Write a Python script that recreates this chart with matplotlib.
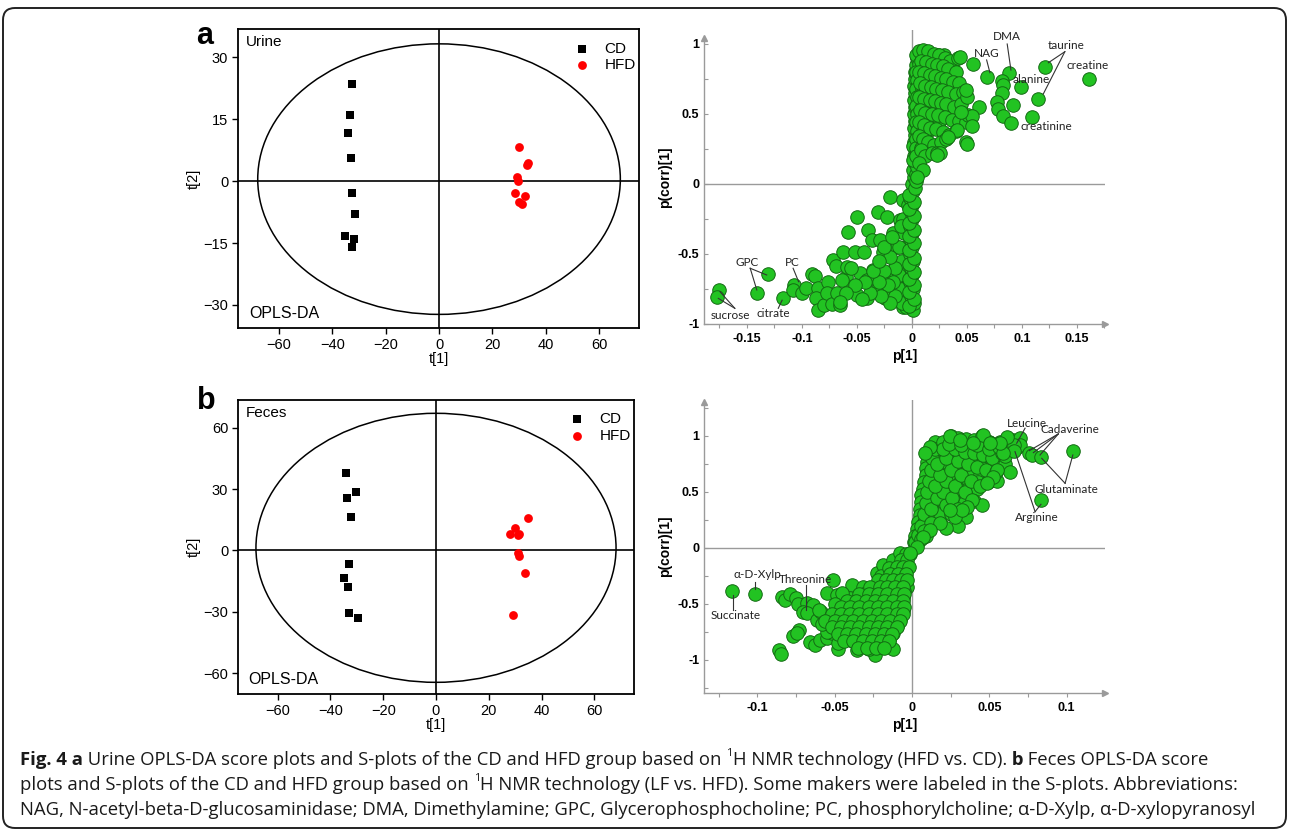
import matplotlib.pyplot as plt
from matplotlib.patches import Ellipse, FancyBboxPatch
from matplotlib.transforms import IdentityTransform
from matplotlib.ticker import MultipleLocator

plt.rcParams['font.family'] = ['Liberation Sans', 'DejaVu Sans']

# ---------------- score plots: t[1], t[2] ----------------
urine_cd_t1 = [-32.5, -33.4, -34.2, -32.9, -32.5, -31.5, -35.1, -31.9, -32.5]
urine_cd_t2 = [23.5, 16.0, 11.8, 5.5, -2.8, -7.9, -13.2, -14.1, -15.9]
urine_hfd_t1 = [30.0, 33.2, 32.9, 29.1, 29.7, 28.5, 32.4, 30.1, 31.0]
urine_hfd_t2 = [8.4, 4.5, 4.0, 0.9, 0.0, -2.9, -3.5, -5.0, -5.5]

feces_cd_t1 = [-34.1, -30.4, -33.6, -32.1, -32.8, -35.0, -33.2, -33.1, -29.4]
feces_cd_t2 = [37.7, 28.4, 25.5, 16.5, -6.8, -13.6, -17.7, -30.7, -33.0]
feces_hfd_t1 = [34.8, 30.0, 28.0, 30.9, 31.6, 31.2, 31.3, 33.6, 29.0]
feces_hfd_t2 = [15.7, 11.1, 8.1, 7.4, 7.9, -1.4, -2.5, -11.1, -31.7]

score_xticks = [-60, -40, -20, 0, 20, 40, 60]
urine_yticks = [-30, -15, 0, 15, 30]
feces_yticks = [-60, -30, 0, 30, 60]

# ---------------- S-plots: p[1], p(corr)[1] ----------------
urine_s_low = [(-0.175, -0.757), (-0.177, -0.805), (-0.1306, -0.643), (-0.1406, -0.776), (-0.117, -0.812),
               (-0.107, -0.719), (-0.108, -0.76), (-0.100, -0.78), (-0.0964, -0.745), (-0.091, -0.643),
               (-0.088, -0.66), (-0.085, -0.745), (-0.087, -0.817), (-0.085, -0.9), (-0.08, -0.864),
               (-0.076, -0.698), (-0.0775, -0.78), (-0.073, -0.857), (-0.0655, -0.864), (-0.0685, -0.78),
               (-0.0715, -0.543), (-0.069, -0.586), (-0.0625, -0.483), (-0.060, -0.662), (-0.058, -0.34),
               (-0.050, -0.238), (-0.052, -0.483), (-0.044, -0.483), (-0.040, -0.33), (-0.031, -0.198),
               (-0.020, -0.09), (-0.0266, -0.483), (-0.023, -0.233), (-0.0366, -0.4), (-0.055, -0.733),
               (-0.050, -0.79), (-0.041, -0.817), (-0.032, -0.757), (-0.0245, -0.817), (-0.0185, -0.757),
               (-0.008, -0.876), (-0.011, -0.686), (-0.0155, -0.59), (-0.035, -0.614), (-0.047, -0.638),
               (-0.059, -0.59), (-0.064, -0.686), (-0.041, -0.686), (-0.023, -0.662), (-0.029, -0.4),
               (-0.017, -0.352), (-0.014, -0.448), (-0.011, -0.257), (-0.008, -0.114), (-0.005, -0.543),
               (-0.003, -0.757), (-0.002, -0.852),
               (-0.005, -0.88), (-0.006, -0.8), (-0.004, -0.72), (-0.006, -0.62), (-0.004, -0.55),
               (-0.005, -0.45), (-0.007, -0.35), (-0.005, -0.25), (-0.004, -0.15), (-0.009, -0.85),
               (-0.01, -0.75), (-0.012, -0.65), (-0.009, -0.55), (-0.012, -0.45), (-0.015, -0.8),
               (-0.017, -0.7), (-0.015, -0.6), (-0.02, -0.85), (-0.022, -0.72), (-0.025, -0.62),
               (-0.028, -0.8), (-0.03, -0.7), (-0.035, -0.62), (-0.038, -0.78), (-0.043, -0.7),
               (-0.045, -0.82), (-0.052, -0.72), (-0.055, -0.6), (-0.06, -0.78), (-0.065, -0.84),
               (-0.02, -0.52), (-0.025, -0.45), (-0.03, -0.55), (-0.018, -0.38), (-0.008, -0.25),
               (-0.01, -0.3)]
urine_s_col = [(0.001, -0.9), (0.002, -0.85), (-0.001, -0.8), (0.001, -0.75), (-0.002, -0.7), (0.0, -0.65),
               (-0.001, -0.6), (0.001, -0.55), (-0.002, -0.5), (0.0, -0.45), (-0.001, -0.4), (0.0, -0.35),
               (-0.002, -0.3), (0.0, -0.25), (-0.001, -0.2), (0.0, -0.15), (-0.002, -0.1), (0.001, -0.05),
               (0.0, 0.0), (0.002, 0.05), (0.001, 0.1), (0.003, 0.15), (0.002, 0.2), (0.003, 0.25),
               (0.002, 0.3), (0.003, 0.35), (0.002, 0.4), (0.003, 0.45), (0.002, 0.5), (0.003, 0.55),
               (0.002, 0.6), (0.003, 0.65), (0.002, 0.7), (0.003, 0.75), (0.003, 0.8), (0.004, 0.85),
               (0.005, 0.9),
               (-0.003, -0.875), (0.002, -0.825), (-0.003, -0.775), (0.002, -0.725), (-0.003, -0.675),
               (0.002, -0.625), (-0.003, -0.575), (0.002, -0.525), (-0.003, -0.475), (0.002, -0.425),
               (-0.003, -0.375), (0.002, -0.325), (-0.003, -0.275), (0.002, -0.225), (-0.003, -0.175),
               (0.002, -0.125), (-0.003, -0.075), (0.003, -0.025), (0.004, 0.025), (0.004, 0.075),
               (0.005, 0.125), (0.001, 0.175), (0.005, 0.225), (0.001, 0.275)]
urine_s_fill = [(0.004, 0.92), (0.009, 0.92), (0.014, 0.92), (0.019, 0.92), (0.024, 0.92), (0.029, 0.92),
                (0.006, 0.86), (0.011, 0.86), (0.016, 0.86), (0.021, 0.86), (0.026, 0.86), (0.031, 0.86),
                (0.036, 0.86), (0.004, 0.80), (0.009, 0.80), (0.014, 0.80), (0.019, 0.80), (0.024, 0.80),
                (0.029, 0.80), (0.034, 0.80), (0.005, 0.74), (0.010, 0.74), (0.015, 0.74), (0.020, 0.74),
                (0.025, 0.74), (0.030, 0.74), (0.004, 0.68), (0.009, 0.68), (0.014, 0.68), (0.019, 0.68),
                (0.024, 0.68), (0.029, 0.68), (0.035, 0.68), (0.005, 0.62), (0.010, 0.62), (0.015, 0.62),
                (0.020, 0.62), (0.025, 0.62), (0.004, 0.56), (0.009, 0.56), (0.014, 0.56), (0.019, 0.56),
                (0.024, 0.56), (0.029, 0.56), (0.005, 0.50), (0.010, 0.50), (0.015, 0.50), (0.020, 0.50),
                (0.004, 0.44), (0.009, 0.44), (0.014, 0.44), (0.019, 0.44), (0.025, 0.44), (0.005, 0.38),
                (0.010, 0.38), (0.015, 0.38), (0.004, 0.32), (0.008, 0.32), (0.012, 0.32), (0.004, 0.26),
                (0.008, 0.26), (0.004, 0.20)]
urine_s_high = [(0.006, 0.95), (0.01, 0.96), (0.015, 0.95), (0.02, 0.93), (0.025, 0.92), (0.03, 0.9),
                (0.035, 0.88), (0.042, 0.9), (0.008, 0.88), (0.013, 0.87), (0.018, 0.86), (0.023, 0.85),
                (0.028, 0.84), (0.033, 0.82), (0.04, 0.8), (0.006, 0.8), (0.011, 0.79), (0.016, 0.78),
                (0.021, 0.77), (0.026, 0.76), (0.031, 0.75), (0.037, 0.73), (0.043, 0.72), (0.007, 0.72),
                (0.012, 0.7), (0.017, 0.69), (0.022, 0.68), (0.027, 0.67), (0.033, 0.66), (0.04, 0.64),
                (0.046, 0.66), (0.006, 0.62), (0.011, 0.61), (0.016, 0.6), (0.021, 0.59), (0.026, 0.58),
                (0.031, 0.57), (0.038, 0.55), (0.045, 0.57), (0.05, 0.62), (0.007, 0.53), (0.012, 0.51),
                (0.018, 0.5), (0.024, 0.49), (0.03, 0.48), (0.036, 0.46), (0.043, 0.45), (0.049, 0.44),
                (0.051, 0.49), (0.006, 0.44), (0.011, 0.42), (0.016, 0.4), (0.022, 0.39), (0.028, 0.37),
                (0.034, 0.35), (0.04, 0.38), (0.006, 0.34), (0.01, 0.32), (0.015, 0.3), (0.02, 0.28),
                (0.026, 0.3), (0.031, 0.32), (0.008, 0.24), (0.012, 0.2), (0.018, 0.22), (0.023, 0.22),
                (0.006, 0.15), (0.01, 0.1), (0.005, 0.05),
                (0.0685, 0.767), (0.0885, 0.79), (0.0815, 0.738), (0.0824, 0.707), (0.082, 0.652),
                (0.0988, 0.695), (0.077, 0.583), (0.0785, 0.533), (0.0915, 0.564), (0.083, 0.486),
                (0.0897, 0.433), (0.1088, 0.481), (0.1148, 0.605), (0.121, 0.838), (0.1606, 0.752),
                (0.0552, 0.857), (0.061, 0.548), (0.055, 0.486), (0.055, 0.414), (0.049, 0.671),
                (0.049, 0.302), (0.050, 0.286), (0.041, 0.386), (0.033, 0.338), (0.0255, 0.219),
                (0.0224, 0.207), (0.045, 0.516), (0.0436, 0.909)]

feces_s_low = [(-0.1166, -0.381), (-0.1016, -0.41), (-0.0509, -0.286), (-0.0843, -0.435), (-0.0821, -0.464),
               (-0.0789, -0.41), (-0.075, -0.449), (-0.0735, -0.5), (-0.068, -0.494), (-0.0638, -0.509),
               (-0.0703, -0.568), (-0.0677, -0.577), (-0.0729, -0.732), (-0.0768, -0.79), (-0.0746, -0.76),
               (-0.0858, -0.911), (-0.0849, -0.946), (-0.066, -0.836), (-0.0617, -0.643), (-0.059, -0.569),
               (-0.0552, -0.405), (-0.0487, -0.42), (-0.0627, -0.866), (-0.0595, -0.82), (-0.055, -0.807),
               (-0.052, -0.762), (-0.0477, -0.905), (-0.0358, -0.911), (-0.024, -0.955), (-0.039, -0.33),
               (-0.0358, -0.464), (-0.0315, -0.345), (-0.0552, -0.688), (-0.049, -0.70), (-0.0422, -0.672),
               (-0.0412, -0.792), (-0.0336, -0.82), (-0.0293, -0.747), (-0.025, -0.524), (-0.0228, -0.226),
               (-0.0186, -0.152), (-0.0121, -0.107), (-0.0078, -0.047), (-0.0164, -0.375), (-0.0121, -0.613),
               (-0.0078, -0.524), (-0.0034, -0.345), (-0.0207, -0.732), (-0.0164, -0.82), (-0.0293, -0.85),
               (-0.002, -0.05), (-0.004, -0.1), (-0.006, -0.15), (-0.008, -0.2), (-0.004, -0.2),
               (-0.01, -0.25), (-0.005, -0.28), (-0.012, -0.3), (-0.007, -0.33), (-0.015, -0.35),
               (-0.005, -0.38), (-0.01, -0.4), (-0.018, -0.42), (-0.006, -0.45), (-0.013, -0.46),
               (-0.022, -0.48), (-0.008, -0.5), (-0.016, -0.52), (-0.026, -0.54), (-0.006, -0.56),
               (-0.012, -0.58), (-0.02, -0.6), (-0.03, -0.6), (-0.008, -0.63), (-0.016, -0.65),
               (-0.025, -0.66), (-0.036, -0.65), (-0.01, -0.7), (-0.019, -0.72), (-0.028, -0.72),
               (-0.04, -0.72), (-0.012, -0.76), (-0.022, -0.78), (-0.032, -0.78), (-0.045, -0.76),
               (-0.015, -0.82), (-0.025, -0.84), (-0.038, -0.83), (-0.018, -0.88), (-0.028, -0.9),
               (-0.012, -0.9), (-0.045, -0.55), (-0.04, -0.45), (-0.05, -0.62), (-0.055, -0.75),
               (-0.048, -0.85), (-0.035, -0.5), (-0.03, -0.4), (-0.022, -0.35), (-0.045, -0.4),
               (-0.05, -0.5), (-0.038, -0.58), (-0.06, -0.55), (-0.058, -0.68), (-0.02, -0.25),
               (-0.015, -0.18)]
feces_s_low_fill = [(-0.004, -0.05), (-0.001, -0.05), (-0.007, -0.11), (-0.003, -0.11), (-0.010, -0.17),
                    (-0.006, -0.17), (-0.002, -0.17), (-0.014, -0.23), (-0.009, -0.23), (-0.004, -0.23),
                    (-0.022, -0.29), (-0.017, -0.29), (-0.012, -0.29), (-0.007, -0.29), (-0.003, -0.29),
                    (-0.027, -0.35), (-0.021, -0.35), (-0.016, -0.35), (-0.011, -0.35), (-0.006, -0.35),
                    (-0.034, -0.41), (-0.028, -0.41), (-0.022, -0.41), (-0.016, -0.41), (-0.010, -0.41),
                    (-0.005, -0.41), (-0.042, -0.47), (-0.036, -0.47), (-0.030, -0.47), (-0.024, -0.47),
                    (-0.018, -0.47), (-0.012, -0.47), (-0.006, -0.47), (-0.046, -0.53), (-0.040, -0.53),
                    (-0.034, -0.53), (-0.028, -0.53), (-0.022, -0.53), (-0.016, -0.53), (-0.010, -0.53),
                    (-0.005, -0.53), (-0.052, -0.59), (-0.046, -0.59), (-0.040, -0.59), (-0.034, -0.59),
                    (-0.028, -0.59), (-0.022, -0.59), (-0.016, -0.59), (-0.010, -0.59), (-0.006, -0.59),
                    (-0.056, -0.65), (-0.050, -0.65), (-0.044, -0.65), (-0.038, -0.65), (-0.032, -0.65),
                    (-0.026, -0.65), (-0.020, -0.65), (-0.014, -0.65), (-0.008, -0.65), (-0.052, -0.71),
                    (-0.046, -0.71), (-0.040, -0.71), (-0.034, -0.71), (-0.028, -0.71), (-0.022, -0.71),
                    (-0.016, -0.71), (-0.010, -0.71), (-0.048, -0.77), (-0.042, -0.77), (-0.036, -0.77),
                    (-0.030, -0.77), (-0.024, -0.77), (-0.018, -0.77), (-0.013, -0.77), (-0.044, -0.83),
                    (-0.038, -0.83), (-0.032, -0.83), (-0.026, -0.83), (-0.020, -0.83), (-0.015, -0.83),
                    (-0.035, -0.89), (-0.029, -0.89), (-0.023, -0.89), (-0.018, -0.89)]
feces_s_high_fill = [(0.015, 0.95), (0.022, 0.95), (0.029, 0.95), (0.036, 0.95), (0.043, 0.95), (0.050, 0.95),
                     (0.057, 0.95), (0.064, 0.95), (0.012, 0.89), (0.018, 0.89), (0.025, 0.89), (0.032, 0.89),
                     (0.039, 0.89), (0.046, 0.89), (0.053, 0.89), (0.060, 0.89), (0.067, 0.89), (0.010, 0.83),
                     (0.016, 0.83), (0.023, 0.83), (0.030, 0.83), (0.037, 0.83), (0.044, 0.83), (0.051, 0.83),
                     (0.058, 0.83), (0.010, 0.77), (0.016, 0.77), (0.022, 0.77), (0.028, 0.77), (0.034, 0.77),
                     (0.040, 0.77), (0.046, 0.77), (0.052, 0.77), (0.058, 0.77), (0.009, 0.71), (0.015, 0.71),
                     (0.021, 0.71), (0.027, 0.71), (0.033, 0.71), (0.039, 0.71), (0.045, 0.71), (0.051, 0.71),
                     (0.009, 0.65), (0.014, 0.65), (0.020, 0.65), (0.026, 0.65), (0.032, 0.65), (0.038, 0.65),
                     (0.044, 0.65), (0.008, 0.59), (0.013, 0.59), (0.019, 0.59), (0.025, 0.59), (0.031, 0.59),
                     (0.037, 0.59), (0.043, 0.59), (0.049, 0.59), (0.007, 0.53), (0.012, 0.53), (0.018, 0.53),
                     (0.024, 0.53), (0.030, 0.53), (0.036, 0.53), (0.042, 0.53), (0.006, 0.47), (0.011, 0.47),
                     (0.017, 0.47), (0.023, 0.47), (0.029, 0.47), (0.035, 0.47), (0.006, 0.41), (0.011, 0.41),
                     (0.016, 0.41), (0.022, 0.41), (0.028, 0.41), (0.034, 0.41), (0.005, 0.35), (0.010, 0.35),
                     (0.015, 0.35), (0.021, 0.35), (0.027, 0.35), (0.005, 0.29), (0.009, 0.29), (0.014, 0.29),
                     (0.019, 0.29), (0.004, 0.23), (0.008, 0.23), (0.013, 0.23), (0.018, 0.23), (0.003, 0.17),
                     (0.007, 0.17), (0.011, 0.17), (0.002, 0.11), (0.005, 0.11), (0.009, 0.11), (0.001, 0.05),
                     (0.004, 0.05)]
feces_s_high = [(0.002, 0.05), (0.004, 0.12), (0.006, 0.2), (0.008, 0.3), (0.009, 0.4), (0.01, 0.5),
                (0.011, 0.6), (0.012, 0.7), (0.013, 0.8), (0.015, 0.88), (0.02, 0.95), (0.025, 1.0),
                (0.03, 0.98), (0.035, 0.97), (0.04, 0.96), (0.045, 1.0), (0.05, 0.95), (0.055, 0.93),
                (0.06, 0.95), (0.065, 0.96), (0.07, 0.98), (0.006, 0.08), (0.01, 0.15), (0.014, 0.25),
                (0.018, 0.3), (0.012, 0.35), (0.016, 0.45), (0.022, 0.38), (0.025, 0.3), (0.02, 0.5),
                (0.026, 0.45), (0.03, 0.35), (0.015, 0.55), (0.022, 0.6), (0.028, 0.55), (0.034, 0.5),
                (0.04, 0.42), (0.045, 0.38), (0.018, 0.65), (0.025, 0.7), (0.032, 0.65), (0.038, 0.6),
                (0.044, 0.55), (0.05, 0.6), (0.055, 0.6), (0.016, 0.75), (0.022, 0.8), (0.03, 0.78),
                (0.036, 0.75), (0.042, 0.72), (0.048, 0.7), (0.054, 0.68), (0.06, 0.75), (0.02, 0.88),
                (0.028, 0.88), (0.034, 0.86), (0.04, 0.85), (0.046, 0.83), (0.052, 0.8), (0.058, 0.85),
                (0.064, 0.88), (0.068, 0.9), (0.06, 0.82), (0.024, 0.93), (0.032, 0.92), (0.042, 0.92),
                (0.05, 0.88), (0.056, 0.9), (0.07, 0.92), (0.035, 0.28), (0.03, 0.2), (0.022, 0.18),
                (0.012, 0.22), (0.008, 0.15),
                (0.066, 0.92), (0.0662, 0.869), (0.059, 0.845), (0.0634, 0.682), (0.0759, 0.851),
                (0.0774, 0.83), (0.0832, 0.815), (0.104, 0.869), (0.0834, 0.43),
                (0.0246, 1.0), (0.0457, 1.009), (0.0612, 0.988), (0.031, 0.964), (0.0116, 0.905),
                (0.0084, 0.845), (0.0569, 0.935), (0.0505, 0.935), (0.0397, 0.935), (0.0548, 0.696),
                (0.0526, 0.637), (0.0483, 0.577), (0.0386, 0.429), (0.0354, 0.369), (0.0278, 0.28),
                (0.0321, 0.339), (0.0246, 0.339), (0.0181, 0.22), (0.0116, 0.161), (0.0073, 0.101),
                (0.003, 0.012), (-0.0013, -0.047)]

W, H = 1290, 831
fig = plt.figure(figsize=(W / 100, H / 100), dpi=100)


def px_rect(left, top, right, bottom):
    return [left / W, 1 - bottom / H, (right - left) / W, (bottom - top) / H]


def score_plot(rect, cd_x, cd_y, hfd_x, hfd_y, xlim, ylim, yticks, ell, tissue):
    ax = fig.add_axes(rect)
    ax.add_patch(Ellipse((0, ell[2]), 2 * ell[0], 2 * ell[1], fill=False, ec='black', lw=1.1))
    ax.axhline(0, color='black', lw=1.2)
    ax.axvline(0, color='black', lw=1.2)
    ax.scatter(cd_x, cd_y, marker='s', s=36, c='black', lw=0, label='CD', zorder=3)
    ax.scatter(hfd_x, hfd_y, marker='o', s=40, c='#ff0000', lw=0, label='HFD', zorder=3)
    ax.set_xlim(xlim)
    ax.set_ylim(ylim)
    ax.set_xticks(score_xticks)
    ax.set_yticks(yticks)
    ax.tick_params(direction='out', length=4, width=1, labelsize=10.5, pad=3)
    for sp in ax.spines.values():
        sp.set_linewidth(1.3)
    ax.set_xlabel('t[1]', fontsize=10.5, labelpad=0)
    ax.set_ylabel('t[2]', fontsize=10.5, labelpad=2)
    ax.text(0.02, 0.955, tissue, transform=ax.transAxes, fontsize=11, va='center')
    ax.text(0.027, 0.048, 'OPLS-DA', transform=ax.transAxes, fontsize=11.5, va='center')
    ax.legend(loc='upper right', bbox_to_anchor=(1.0, 0.968), frameon=False, fontsize=11,
              handlelength=0.6, handletextpad=1.2, labelspacing=0.15, borderpad=0.2,
              borderaxespad=0, scatterpoints=1)
    return ax


def s_plot(rect, pts, xlim, ylim, xticks, top_arrow):
    ax = fig.add_axes(rect)
    xs = [p[0] for p in pts]
    ys = [p[1] for p in pts]
    ax.axhline(0, color='#9a9a9a', lw=1, zorder=1)
    ax.axvline(0, color='#9a9a9a', lw=1, zorder=1)
    ax.scatter(xs, ys, s=95, c='#22c322', edgecolors='#136b13', linewidths=0.7, zorder=3)
    ax.set_xlim(xlim)
    ax.set_ylim(ylim)
    for side in ['top', 'right']:
        ax.spines[side].set_visible(False)
    for side in ['left', 'bottom']:
        ax.spines[side].set_color('#9a9a9a')
        ax.spines[side].set_linewidth(1)
    ax.spines['left'].set_bounds(ylim[0], top_arrow)
    ax.plot([xlim[0]], [top_arrow], marker='^', color='#9a9a9a', ms=5, clip_on=False, zorder=4)
    ax.plot([xlim[1]], [ylim[0]], marker='>', color='#9a9a9a', ms=5, clip_on=False, zorder=4)
    ax.set_xticks(xticks)
    ax.set_yticks([-1, -0.5, 0, 0.5, 1])
    ax.set_xticklabels([('%g' % v) for v in xticks])
    ax.set_yticklabels(['-1', '-0.5', '0', '0.5', '1'])
    ax.xaxis.set_minor_locator(MultipleLocator(0.025))
    ax.yaxis.set_minor_locator(MultipleLocator(0.25))
    ax.tick_params(axis='x', which='both', direction='out', length=3, color='#9a9a9a', width=0.8)
    ax.tick_params(axis='y', which='both', direction='in', length=3, color='#9a9a9a', width=0.8)
    ax.tick_params(labelsize=9)
    for lab in ax.get_xticklabels() + ax.get_yticklabels():
        lab.set_fontweight('bold')
    ax.set_xlabel('p[1]', fontsize=10, fontweight='bold', labelpad=3)
    ax.set_ylabel('p(corr)[1]', fontsize=10, fontweight='bold', labelpad=4)
    return ax


def label(ax, text, pos, lines=()):
    ax.text(pos[0], pos[1], text, fontsize=8.5, family=['Lato', 'DejaVu Sans'],
            ha='center', va='center', color='#222222', zorder=5)
    for (x0, y0), (x1, y1) in lines:
        ax.plot([x0, x1], [y0, y1], color='#333333', lw=0.8, zorder=5)


# score plot a
score_plot(px_rect(238, 29, 639, 328), urine_cd_t1, urine_cd_t2, urine_hfd_t1, urine_hfd_t2,
           (-75.4, 75), (-35.6, 36.9), urine_yticks, (68, 32.8, 0.5), 'Urine')
# score plot b
score_plot(px_rect(238, 400, 634, 694), feces_cd_t1, feces_cd_t2, feces_hfd_t1, feces_hfd_t2,
           (-75, 75), (-70.1, 73.5), feces_yticks, (68.2, 65.7, 1.3), 'Feces')

fig.text(205 / W, 1 - 36 / H, 'a', fontsize=22, fontweight='bold', ha='center', va='center')
fig.text(206 / W, 1 - 401 / H, 'b', fontsize=22, fontweight='bold', ha='center', va='center')

# S-plot a (urine)
sa = s_plot(px_rect(704, 30, 1105, 324), urine_s_low + urine_s_col + urine_s_fill + urine_s_high,
            (-0.189, 0.1755), (-1.0, 1.1), [-0.15, -0.1, -0.05, 0, 0.05, 0.1, 0.15], 1.045)
label(sa, 'DMA', (0.0866, 1.052), [((0.0866, 1.0), (0.090, 0.814))])
label(sa, 'NAG', (0.0679, 0.933), [((0.0679, 0.886), (0.0709, 0.795))])
label(sa, 'taurine', (0.1406, 0.986), [((0.139, 0.945), (0.124, 0.866)), ((0.139, 0.945), (0.1194, 0.643))])
label(sa, 'creatine', (0.160, 0.843))
label(sa, 'alanine', (0.108, 0.748))
label(sa, 'creatinine', (0.1224, 0.414))
label(sa, 'GPC', (-0.150, -0.562), [((-0.147, -0.602), (-0.132, -0.65)), ((-0.147, -0.602), (-0.141, -0.757))])
label(sa, 'PC', (-0.109, -0.562), [((-0.108, -0.602), (-0.103, -0.698))])
label(sa, 'sucrose', (-0.165, -0.936), [((-0.161, -0.888), (-0.1745, -0.769)), ((-0.161, -0.888), (-0.176, -0.817))])
label(sa, 'citrate', (-0.126, -0.924), [((-0.1215, -0.888), (-0.118, -0.83))])

# S-plot b (feces)
sb = s_plot(px_rect(704, 400, 1105, 693), feces_s_low + feces_s_low_fill + feces_s_high_fill + feces_s_high,
            (-0.1345, 0.1248), (-1.295, 1.321), [-0.1, -0.05, 0, 0.05, 0.1], 1.3)
label(sb, 'Leucine', (0.0742, 1.107), [((0.0731, 1.069), (0.0677, 0.935))])
label(sb, 'Cadaverine', (0.102, 1.06), [((0.0946, 1.018), (0.0759, 0.869)), ((0.0946, 1.018), (0.0785, 0.851)),
                                        ((0.0946, 1.018), (0.0828, 0.83))])
label(sb, 'Glutaminate', (0.100, 0.524), [((0.099, 0.577), (0.0839, 0.80)), ((0.099, 0.577), (0.104, 0.83))])
label(sb, 'Arginine', (0.0807, 0.274), [((0.0796, 0.324), (0.0666, 0.86)), ((0.0796, 0.324), (0.0834, 0.39))])
label(sb, 'Succinate', (-0.1138, -0.607), [((-0.116, -0.42), (-0.116, -0.553))])
label(sb, '\u03b1-D-Xylp', (-0.100, -0.241), [((-0.1014, -0.30), (-0.1014, -0.37))])
label(sb, 'Threonine', (-0.0692, -0.286), [((-0.0686, -0.33), (-0.0686, -0.553))])

# caption
cap_ax = fig.add_axes([0, 0, 1, 1])
cap_ax.axis('off')
FS = 13.3
CAP_FONT = ['Open Sans', 'DejaVu Sans']


def caption_line(pieces, x, y):
    first = fig.text(x, y, pieces[0][0], fontsize=FS, fontweight=pieces[0][1],
                     family=CAP_FONT, va='center', color='#1a1a1a')
    base = first
    prev = first
    for s, w in pieces[1:]:
        if w == 'sup':
            t = cap_ax.annotate(s, xy=(1, 0), xycoords=(prev, base), xytext=(3.5, 7),
                                textcoords='offset points', fontsize=FS * 0.6, family=CAP_FONT,
                                va='bottom', ha='left', color='#1a1a1a')
            prev = t
        else:
            t = cap_ax.annotate(s, xy=(1, 0), xycoords=(prev, base), va='bottom', ha='left',
                                fontsize=FS, fontweight=w, family=CAP_FONT, color='#1a1a1a')
            base = t
            prev = t


caption_line([('Fig. 4', 'bold'), (' a', 'bold'),
              (' Urine OPLS-DA score plots and S-plots of the CD and HFD group based on', 'normal'),
              ('1', 'sup'), ('H NMR technology (HFD vs. CD).', 'normal'), (' b', 'bold'),
              (' Feces OPLS-DA score', 'normal')], 20 / W, 1 - 760 / H)
caption_line([('plots and S-plots of the CD and HFD group based on', 'normal'), ('1', 'sup'),
              ('H NMR technology (LF vs. HFD). Some makers were labeled in the S-plots. Abbreviations:', 'normal')],
             20 / W, 1 - 785 / H)
caption_line([('NAG, N-acetyl-beta-D-glucosaminidase; DMA, Dimethylamine; GPC, Glycerophosphocholine; '
               'PC, phosphorylcholine; \u03b1-D-Xylp, \u03b1-D-xylopyranosyl', 'normal')],
             20 / W, 1 - 810 / H)

# outer rounded frame
frame = FancyBboxPatch((3, 3), 1283, 820, boxstyle='round,pad=0,rounding_size=12',
                       transform=IdentityTransform(), fill=False, ec='#222222', lw=1.4)
fig.patches.append(frame)

fig.savefig('out.png', dpi=100)
